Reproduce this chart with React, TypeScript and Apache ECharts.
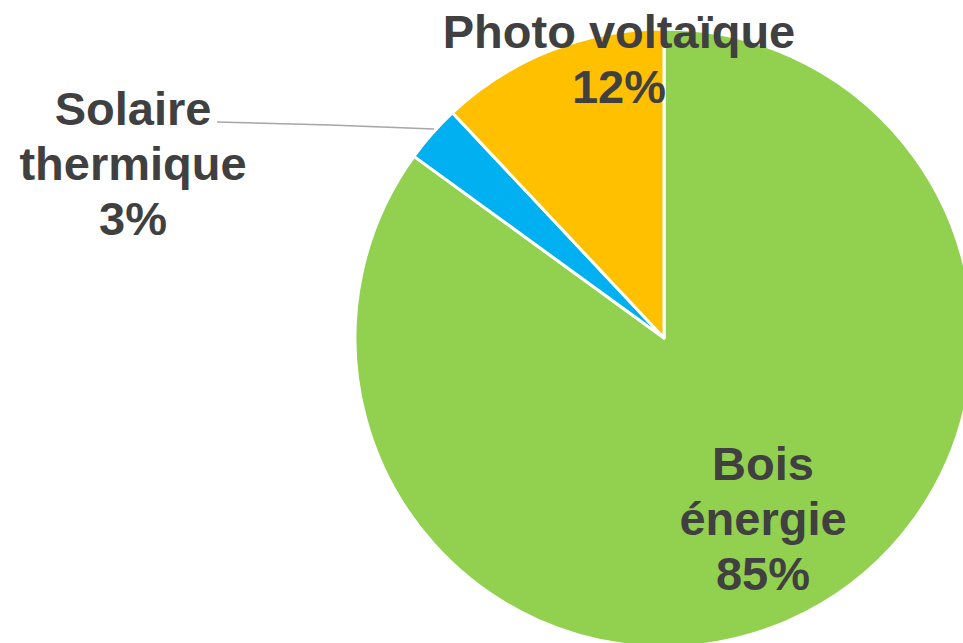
import React, { useEffect, useRef } from "react";
import * as echarts from "echarts";

const categories = ["Bois énergie", "Solaire thermique", "Photo voltaïque"];
const labelTexts = ["Bois\nénergie", "Solaire\nthermique", "Photo voltaïque"];
const values = [85, 3, 12];
const colors = ["#92D050", "#00B0F0", "#FFC000"];

const labelPos: [number, number][] = [
  [763, 518],
  [133, 163],
  [619, 59],
];

export default function App() {
  const ref = useRef<HTMLDivElement>(null);
  useEffect(() => {
    if (!ref.current) return;
    const chart = echarts.init(ref.current, undefined, { renderer: "svg" });
    chart.setOption({
      animation: false,
      backgroundColor: "#ffffff",
      series: [
        {
          type: "pie",
          center: [664, 338],
          radius: 309,
          startAngle: 90,
          clockwise: true,
          avoidLabelOverlap: false,
          itemStyle: { borderColor: "#ffffff", borderWidth: 3 },
          label: {
            show: true,
            position: "outside",
            fontFamily: "Liberation Sans, Arial, sans-serif",
            fontWeight: "bold",
            fontSize: 47,
            lineHeight: 55,
            color: "#404040",
            align: "center",
            formatter: (p: any) => labelTexts[p.dataIndex] + "\n" + p.value + "%",
          },
          labelLine: {
            show: true,
            lineStyle: { color: "#a6a6a6", width: 1.5 },
          },
          labelLayout: (params: any) => {
            const i = params.dataIndex;
            const res: any = {
              x: labelPos[i][0],
              y: labelPos[i][1],
              align: "center",
              verticalAlign: "middle",
            };
            if (i === 1) {
              res.labelLinePoints = [
                [434, 129],
                [330, 125],
                [217, 122],
              ];
            } else {
              res.labelLinePoints = [
                [labelPos[i][0], labelPos[i][1]],
                [labelPos[i][0], labelPos[i][1]],
                [labelPos[i][0], labelPos[i][1]],
              ];
            }
            return res;
          },
          data: categories.map((c, i) => ({
            name: c,
            value: values[i],
            itemStyle: { color: colors[i] },
            labelLine: { show: i === 1 },
          })),
        },
      ],
    });
    return () => chart.dispose();
  }, []);
  return (
    <div
      ref={ref}
      style={{ position: "fixed", left: 0, top: 0, width: 963, height: 643 }}
    />
  );
}
